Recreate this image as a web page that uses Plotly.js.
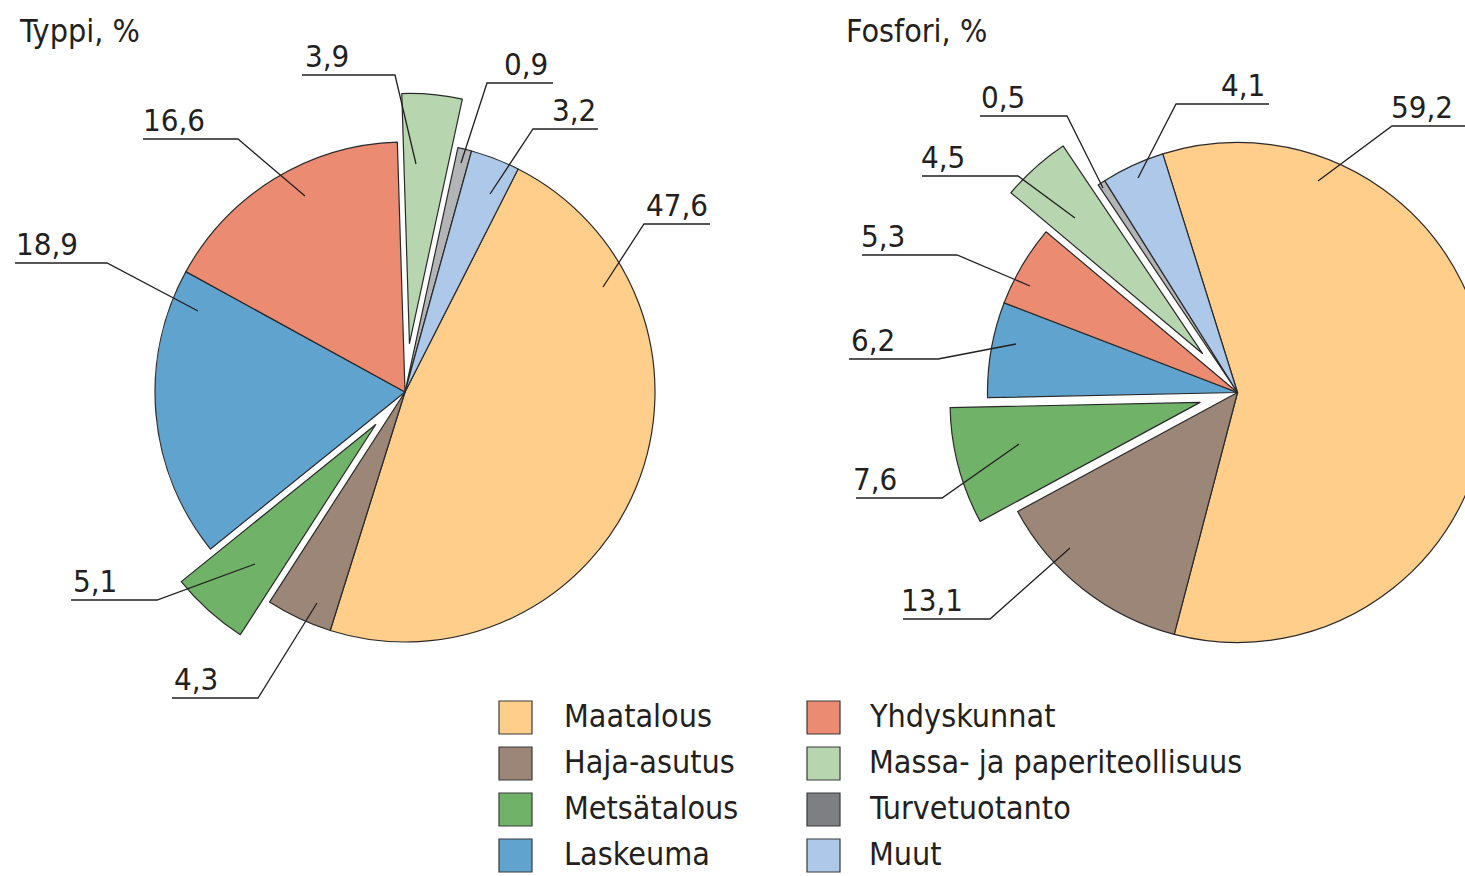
<!DOCTYPE html>
<html>
<head>
<meta charset="utf-8">
<script src="https://cdn.plot.ly/plotly-3.0.1.min.js"></script>
<style>
html,body{margin:0;padding:0;overflow:hidden;background:#fff;}
#chart{width:1560px;height:876px;}
</style>
</head>
<body>
<div id="chart"></div>
<script>
// ---------- data ----------
const categories = ["Maatalous","Haja-asutus","Metsätalous","Laskeuma","Yhdyskunnat","Massa- ja paperiteollisuus","Turvetuotanto","Muut"];
const typpiValues   = [47.6, 4.3, 5.1, 18.9, 16.6, 3.9, 0.9, 3.2];
const fosforiValues = [59.2, 13.1, 7.6, 6.2, 5.3, 4.5, 0.5, 4.1];
const titles = ["Typpi, %", "Fosfori, %"];

// ---------- styles ----------
const legendColors = ["#FECE8A","#9C8677","#6FB268","#60A3CF","#EA8B72","#B7D6B0","#7E7F83","#ADC8E8"];
const pieColors    = ["#FECE8A","#9C8677","#6FB268","#60A3CF","#EA8B72","#B7D6B0","#B3B4B6","#ADC8E8"];
const typpiPull    = [0, 0, 0.175, 0, 0, 0.195, 0, 0];
const fosforiPull  = [0, 0, 0.155, 0, 0, 0.21, 0, 0];
const FONT = "'Liberation Sans Narrow','Arial Narrow','DejaVu Sans Condensed','Liberation Sans',sans-serif";
const INK = "#231f20";
const W = 1560, H = 876;
const px = x => x / W;
const py = y => 1 - y / H;

// pie geometry (pixel centre, radius) -> domains
function domainFor(cx, cy, r, pulls) {
  const half = r * (1 + Math.max(...pulls));
  return { x: [px(cx - half), px(cx + half)], y: [py(cy + half), py(cy - half)] };
}

// label placement: [lineX0, lineX1, lineY, anchorX, anchorY, kneeSide, textX, textAlign]
const typpiLabelPos = [
  [644, 710, 224, 603, 287, "L", 709, "right"],
  [172, 258, 698, 317, 603, "R", 173, "left"],
  [ 71, 157, 600, 255, 564, "R",  72, "left"],
  [ 15, 107, 263, 198, 311, "R",  15, "left"],
  [143, 238, 139, 305, 196, "R", 142, "left"],
  [302, 395,  75, 416, 164, "R", 304, "left"],
  [487, 553,  83, 461, 163, "L", 549, "right"],
  [533, 598, 129, 490, 194, "L", 597, "right"]
];
const fosforiLabelPos = [
  [1392, 1480, 126, 1318, 181, "L", 1390, "left"],
  [ 903,  990, 619, 1070, 548, "R",  900, "left"],
  [ 856,  942, 498, 1019, 444, "R",  852, "left"],
  [ 849,  938, 359, 1016, 344, "R",  850, "left"],
  [ 862,  957, 255, 1030, 286, "R",  860, "left"],
  [ 922, 1018, 176, 1075, 218, "R",  920, "left"],
  [ 980, 1067, 116, 1103, 188, "R",  980, "left"],
  [1176, 1269, 104, 1138, 178, "L", 1266, "right"]
];

const fmt = v => v.toFixed(1).replace(".", ",");

function pieTrace(values, pulls, rotation, domain) {
  return {
    type: "pie",
    labels: categories,
    values: values,
    sort: false,
    direction: "clockwise",
    rotation: rotation,
    pull: pulls,
    domain: domain,
    textinfo: "none",
    hoverinfo: "label+value",
    showlegend: false,
    marker: { colors: pieColors, line: { color: "#2a2a2a", width: 1.2 } }
  };
}

const data = [
  pieTrace(typpiValues, typpiPull, 26.9, domainFor(405, 392, 250, typpiPull)),
  pieTrace(fosforiValues, fosforiPull, -17.4, domainFor(1237.5, 392.5, 250, fosforiPull))
];

const shapes = [];
const annotations = [];

function addLabels(values, pos) {
  values.forEach((v, i) => {
    const [x0, x1, ly, ax, ay, knee, tx, align] = pos[i];
    const kx = knee === "L" ? x0 : x1;
    const ex = knee === "L" ? x1 : x0;
    shapes.push({
      type: "path", xref: "paper", yref: "paper",
      path: `M ${px(ax)} ${py(ay)} L ${px(kx)} ${py(ly)} L ${px(ex)} ${py(ly)}`,
      line: { color: INK, width: 1.3 }
    });
    annotations.push({
      xref: "paper", yref: "paper", x: px(tx), y: py(ly - 19),
      xanchor: align, yanchor: "middle", showarrow: false, borderpad: 0,
      text: fmt(v), font: { family: FONT, size: 31, color: INK }
    });
  });
}
addLabels(typpiValues, typpiLabelPos);
addLabels(fosforiValues, fosforiLabelPos);

// titles
[[18, 31], [845, 31]].forEach((p, i) => {
  annotations.push({
    xref: "paper", yref: "paper", x: px(p[0]), y: py(p[1]),
    xanchor: "left", yanchor: "middle", showarrow: false, borderpad: 0,
    text: titles[i], font: { family: FONT, size: 32, color: INK }
  });
});

// legend (2 columns x 4 rows)
const legCol = [[499, 563], [807, 868]];
categories.forEach((c, i) => {
  const col = Math.floor(i / 4), row = i % 4;
  const top = 701 + 46 * row;
  shapes.push({
    type: "rect", xref: "paper", yref: "paper",
    x0: px(legCol[col][0]), x1: px(legCol[col][0] + 33),
    y0: py(top + 33), y1: py(top),
    fillcolor: legendColors[i], line: { color: "#3a3a3a", width: 1.2 }
  });
  annotations.push({
    xref: "paper", yref: "paper", x: px(legCol[col][1]), y: py(top + 15),
    xanchor: "left", yanchor: "middle", showarrow: false, borderpad: 0,
    text: c, font: { family: FONT, size: 32, color: INK }
  });
});

const layout = {
  width: W, height: H,
  margin: { l: 0, r: 0, t: 0, b: 0 },
  paper_bgcolor: "#ffffff",
  showlegend: false,
  shapes: shapes,
  annotations: annotations
};

Plotly.newPlot("chart", data, layout, { displayModeBar: false, staticPlot: true });
</script>
</body>
</html>
